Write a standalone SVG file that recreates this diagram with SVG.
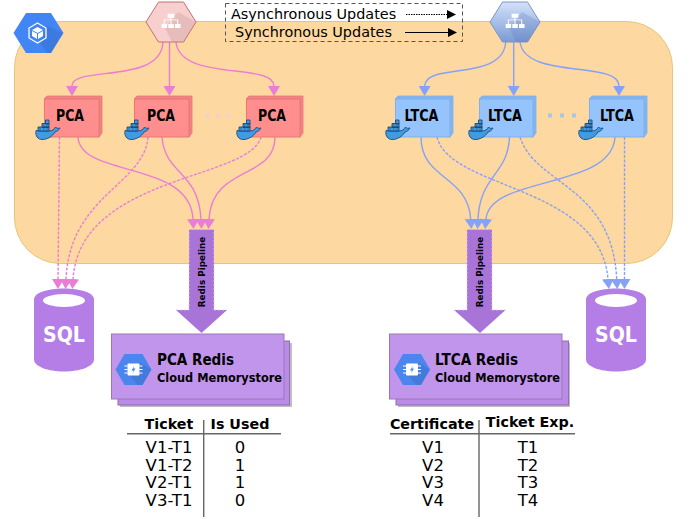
<svg xmlns="http://www.w3.org/2000/svg" xmlns:xlink="http://www.w3.org/1999/xlink" width="695" height="519" viewBox="0 0 695 519">
<style>
text{font-family:"DejaVu Sans","Liberation Sans",sans-serif;fill:#000}
.b{font-weight:700}
.m{text-anchor:middle}
.c{fill:none;stroke-width:1.4}
.p{stroke:#ea7ed6}
.l{stroke:#86a2f8}
.d{stroke-dasharray:3 1.500}
.lbl{font-size:15px;font-weight:700;text-anchor:middle}
.th{font-size:14.300px;font-weight:700;text-anchor:middle}
.td{font-size:16.500px;text-anchor:middle}
.rule{stroke:#666;stroke-width:1.400;fill:none}
.rf{fill:#c295ec;stroke:#9a78b8;stroke-width:1}
.rb{fill:#bb8be8;stroke:#8f6fa8;stroke-width:1}
.sha{fill:#a99db5;opacity:.7}
.big{fill:#a874d8}
.bigd{fill:none;stroke:#e0c8f0;stroke-width:.8;stroke-dasharray:2 2}
.pc{fill:#ff8f8f;stroke:#e67878;stroke-width:1}
.pt{fill:#f58383;stroke:#e67878;stroke-width:.8}
.lc{fill:#94c4fb;stroke:#82b0e8;stroke-width:1}
.lt{fill:#82b5f2;stroke:#82b0e8;stroke-width:.8}
.sql{fill:#b57ee6}
.w{fill:#fff}
</style>
<defs>
<linearGradient id="gb" x1="0" y1="0" x2="0" y2="1"><stop offset="0" stop-color="#d4e2fa"/><stop offset="1" stop-color="#7b9bd6"/></linearGradient>
<marker id="ap" markerUnits="userSpaceOnUse" markerWidth="11" markerHeight="14" refX="0" refY="7" orient="auto"><path d="M0 1L10 7L0 13Z" fill="#ea7ed6"/></marker>
<marker id="al" markerUnits="userSpaceOnUse" markerWidth="11" markerHeight="14" refX="0" refY="7" orient="auto"><path d="M0 1L10 7L0 13Z" fill="#86a2f8"/></marker>
<path id="hexs" d="M-25 0L-12.500-20H12.500L25 0L12.500 20H-12.500Z"/>
<g id="whale">
<path d="M1 10.500C8 11.500 15 11.500 18 10C19 9 20 8 20.500 7C21.500 8.500 23 8.500 25 8C24 10 22 11.500 20 12C17 17 12 19.500 7 19.500C3 19.500 0 16 1 10.500Z" fill="#3f9be3" stroke="#1f4a72" stroke-width=".9"/>
<path d="M3 7h11v4H3zM7 3.500h7v4H7zM10.500 0h3.500v4h-3.500z" fill="#3f9be3" stroke="#1f4a72" stroke-width=".9"/>
<path d="M5 7v4M8.700 3.500V11M12 3.500V11M7 7h7" stroke="#1f4a72" stroke-width=".5" fill="none"/>
</g>
<g id="net" fill="#fff"><path d="M-4-9h8v4.500h-8zM-11 3h6.500v4.500H-11zM-3.200 3h6.500v4.500h-6.500zM4.700 3h6.500v4.500H4.700z"/><path d="M-.6-5h1.200v2.500H8.500V3.500H7.300V-1.500H.6V3.500H-.6V-1.500H-7.300V3.500H-8.500V-2.500H-.6z"/></g>
<g id="chip"><use xlink:href="#hexs" fill="#4a86ee" transform="scale(.72 .78)"/><path d="M-3 7L7-7L18 0L9 15.500H4Z" fill="#3566b8" opacity=".35"/><rect x="-6" y="-6" width="12" height="12" rx="1" fill="#fff"/><path d="M-9-3.500h3M-9 0h3M-9 3.500h3M6-3.500h3M6 0h3M6 3.500h3" stroke="#fff" stroke-width="1.200"/><path d="M1-4L-2 1H0L-1 4L2-1H0Z" fill="#4a86ee"/></g>
<g id="cyl"><path class="sql" d="M0 11C0 4 14 0 30 0S60 4 60 11V71C60 78 46 83 30 83S0 78 0 71Z"/><ellipse class="w" cx="30" cy="12" rx="21" ry="6.500"/><text x="30" y="53" class="b m" style="fill:#fff;font-size:22px" textLength="42" lengthAdjust="spacingAndGlyphs">SQL</text></g>
</defs>

<g id="zone"><rect x="14.500" y="21.500" width="658" height="242" rx="46" fill="#fdd8a0" stroke="#e6c578" stroke-width="1"/></g>

<g id="legend">
<path d="M226 3.500H462V21H226Z" fill="#fff"/>
<rect x="225.500" y="3.500" width="237" height="38" fill="none" stroke="#555" stroke-width="1" stroke-dasharray="4 3"/>
<text x="231" y="18.500" style="font-size:14.400px">Asynchronous Updates</text>
<text x="235" y="36.500" style="font-size:14.400px">Synchronous Updates</text>
<path d="M406 14.500H447" stroke="#000" stroke-width="1" stroke-dasharray="1.500 1" fill="none"/><path d="M447 10L456 14.500L447 19Z"/>
<path d="M405 32.500H448" stroke="#000" stroke-width="1" fill="none"/><path d="M448 28L457 32.500L448 37Z"/>
</g>

<g id="connectors">
<g class="pink">
<path class="c p" d="M163 42C161 85 72 65 72 86" marker-end="url(#ap)"/>
<path class="c p" d="M169.500 42V86" marker-end="url(#ap)"/>
<path class="c p" d="M176 42C180 82 274 62 274 86" marker-end="url(#ap)"/>
<path class="c p" d="M78 137C80 178 190 160 193 219" marker-end="url(#ap)"/>
<path class="c p" d="M162 137C165 175 198 170 201 219" marker-end="url(#ap)"/>
<path class="c p" d="M275 137C275 180 212 165 209 219" marker-end="url(#ap)"/>
<path class="c p d" d="M59.500 137L58 279" marker-end="url(#ap)"/>
<path class="c p d" d="M148 137C144 185 70 195 66 279" marker-end="url(#ap)"/>
<path class="c p d" d="M261 137C250 180 80 175 73 279" marker-end="url(#ap)"/>
</g>
<g class="blue">
<path class="c l" d="M505.700 42C503 82 425 62 424.700 86" marker-end="url(#al)"/>
<path class="c l" d="M513.700 42V86" marker-end="url(#al)"/>
<path class="c l" d="M520 42C525 80 619 60 619 86" marker-end="url(#al)"/>
<path class="c l" d="M421 137C421 180 468 175 470.700 219" marker-end="url(#al)"/>
<path class="c l" d="M509.500 137C508 175 480 175 478 219" marker-end="url(#al)"/>
<path class="c l" d="M615 137C612 190 490 175 486 219" marker-end="url(#al)"/>
<path class="c l d" d="M437 137C450 190 600 185 608 279" marker-end="url(#al)"/>
<path class="c l d" d="M520 137C535 185 612 185 616.700 279" marker-end="url(#al)"/>
<path class="c l d" d="M624.500 137V279" marker-end="url(#al)"/>
</g>
</g>

<g id="lb-ca-top"><use xlink:href="#hexs" transform="translate(38.500 33)" fill="#4285f4"/><path d="M41 44L47 26L63 33L51 53H47Z" fill="#3566b8" opacity=".35"/><path d="M37.500 23L46 28V38L37.500 43L29 38V28Z" fill="none" stroke="#fff" stroke-width="1.300"/><path d="M37.500 27L43 30L37.500 33L32 30Z" fill="#fff"/><path d="M32 31L37 33.800V39L32 36ZM43 31L38 33.800V39L43 36Z" fill="#fff"/></g>
<g id="lb-pca"><use xlink:href="#hexs" transform="translate(171 22)" fill="#f6cfce" stroke="#c87070" stroke-width="1"/><path d="M165 28L178 12L196 22L183 42H172Z" fill="#b88" opacity=".25"/><use xlink:href="#net" transform="translate(171 21.500) scale(.85)"/></g>
<g id="lb-ltca"><use xlink:href="#hexs" transform="translate(515 22)" fill="url(#gb)" stroke="#7a96c8" stroke-width="1"/><path d="M509 28L522 12L540 22L527 42H516Z" fill="#4a6aa8" opacity=".2"/><use xlink:href="#net" transform="translate(515 21.500) scale(.85)"/></g>

<g id="pca1"><path class="pt" d="M44 99L47 96H102V133L99 137V99Z"/><rect class="pc" x="44.500" y="99" width="54.500" height="38"/><text class="lbl" x="70" y="121" textLength="28" lengthAdjust="spacingAndGlyphs">PCA</text><use xlink:href="#whale" x="35" y="120"/></g>
<g id="pca2"><path class="pt" d="M134 99L137 96H192V133L189 137V99Z"/><rect class="pc" x="134.500" y="99" width="54.500" height="38"/><text class="lbl" x="161" y="121" textLength="28" lengthAdjust="spacingAndGlyphs">PCA</text><use xlink:href="#whale" x="124" y="120"/></g>
<g id="pca3"><path class="pt" d="M246 99L249 96H303V133L300 137V99Z"/><rect class="pc" x="246.500" y="99" width="53.500" height="38"/><text class="lbl" x="272" y="121" textLength="28" lengthAdjust="spacingAndGlyphs">PCA</text><use xlink:href="#whale" x="236" y="120"/></g>
<g id="pca-dots" fill="#f5d0ca"><rect x="205" y="113.500" width="4" height="4"/><rect x="216" y="113.500" width="4" height="4"/><rect x="226" y="113.500" width="4" height="4"/></g>

<g id="ltca1"><path class="lt" d="M395 99L398 96H453V133L450 137V99Z"/><rect class="lc" x="395.500" y="99" width="54.500" height="38"/><text class="lbl" x="421.500" y="121" textLength="34" lengthAdjust="spacingAndGlyphs">LTCA</text><use xlink:href="#whale" x="385" y="120"/></g>
<g id="ltca2"><path class="lt" d="M479 99L482 96H536V133L533 137V99Z"/><rect class="lc" x="479.500" y="99" width="53.500" height="38"/><text class="lbl" x="505" y="121" textLength="34" lengthAdjust="spacingAndGlyphs">LTCA</text><use xlink:href="#whale" x="468" y="120"/></g>
<g id="ltca3"><path class="lt" d="M589 99L592 96H647V133L644 137V99Z"/><rect class="lc" x="589.500" y="99" width="54.500" height="38"/><text class="lbl" x="617" y="121" textLength="34" lengthAdjust="spacingAndGlyphs">LTCA</text><use xlink:href="#whale" x="578" y="120"/></g>
<g id="ltca-dots" fill="#a6c6ea"><rect x="548" y="113.500" width="4" height="4"/><rect x="560" y="113.500" width="4" height="4"/><rect x="572" y="113.500" width="4" height="4"/></g>

<g id="pipe-pca"><path class="big" d="M189 229.500H214V310H227L201.500 333L176 310H189Z"/><path class="bigd" d="M189 310V229.500H214V310M176 310H189M214 310H227"/><text class="b m" transform="translate(204.500 272) rotate(-90)" style="font-size:8.800px">Redis Pipeline</text></g>
<g id="pipe-ltca"><path class="big" d="M467 229.500H492V310H505.500L480 333L454 310H467Z"/><path class="bigd" d="M467 310V229.500H492V310M454 310H467M492 310H505.500"/><text class="b m" transform="translate(482.500 272) rotate(-90)" style="font-size:8.800px">Redis Pipeline</text></g>

<g id="sql-pca"><use xlink:href="#cyl" x="34" y="288.500"/></g>
<g id="sql-ltca"><use xlink:href="#cyl" x="586" y="288.500"/></g>

<g id="redis-pca"><rect class="sha" x="120" y="343" width="172" height="64"/><rect class="rb" x="118" y="341" width="171.500" height="64"/><rect class="rf" x="111.500" y="334" width="172.500" height="65"/><use xlink:href="#chip" transform="translate(133.500 369.500)"/><text class="b" x="157" y="365" style="font-size:15.500px" textLength="77" lengthAdjust="spacingAndGlyphs">PCA Redis</text><text class="b" x="157" y="382" style="font-size:11.500px" textLength="125" lengthAdjust="spacingAndGlyphs">Cloud Memorystore</text></g>
<g id="redis-ltca"><rect class="sha" x="398" y="343" width="172" height="64"/><rect class="rb" x="396" y="341" width="172.500" height="64"/><rect class="rf" x="389.500" y="334" width="172.500" height="65"/><use xlink:href="#chip" transform="translate(412 369.500)"/><text class="b" x="435" y="365" style="font-size:15.500px" textLength="83" lengthAdjust="spacingAndGlyphs">LTCA Redis</text><text class="b" x="435" y="382" style="font-size:11.500px" textLength="125" lengthAdjust="spacingAndGlyphs">Cloud Memorystore</text></g>

<g id="table-pca">
<path class="rule" d="M127 433.700H281M203.700 420V517"/>
<text class="th" x="169" y="429">Ticket</text><text class="th" x="240" y="429">Is Used</text>
<text class="td" x="169" y="452.500">V1-T1</text><text class="td" x="240" y="452.500">0</text>
<text class="td" x="169" y="470.500">V1-T2</text><text class="td" x="240" y="470.500">1</text>
<text class="td" x="169" y="488">V2-T1</text><text class="td" x="240" y="488">1</text>
<text class="td" x="169" y="506">V3-T1</text><text class="td" x="240" y="506">0</text>
</g>
<g id="table-ltca">
<path class="rule" d="M390 433.700H575M479 420V517"/>
<text class="th" x="432" y="429">Certificate</text><text class="th" x="530" y="427">Ticket Exp.</text>
<text class="td" x="433" y="452.500">V1</text><text class="td" x="528" y="452.500">T1</text>
<text class="td" x="433" y="470.500">V2</text><text class="td" x="528" y="470.500">T2</text>
<text class="td" x="433" y="488">V3</text><text class="td" x="528" y="488">T3</text>
<text class="td" x="433" y="506">V4</text><text class="td" x="528" y="506">T4</text>
</g>
</svg>
